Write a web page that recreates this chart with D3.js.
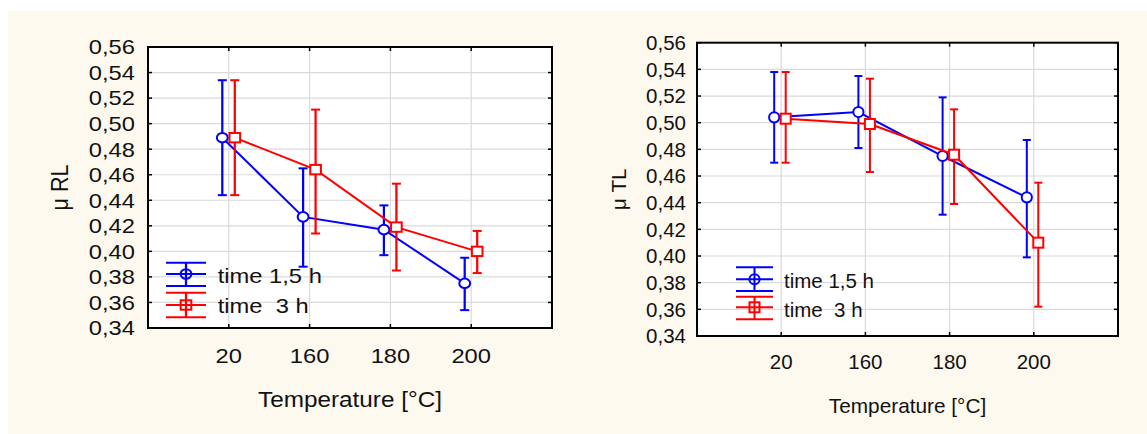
<!DOCTYPE html>
<html><head><meta charset="utf-8">
<script src="https://cdn.jsdelivr.net/npm/d3@7"></script>
<style>
body{margin:0;background:#fff}
text{font-family:"Liberation Sans",Arial,Helvetica,sans-serif;fill:#111;white-space:pre}
</style>
</head><body>
<svg id="c" width="1147" height="434"></svg>
<script>
// ---------- data ----------
const categories = ["20", "160", "180", "200"];
const seriesNames = ["time 1,5 h", "time  3 h"];
const seriesColors = ["#0000ff", "#ff0000"];
const seriesMarkers = ["circle", "square"];
const yTicks = [0.34, 0.36, 0.38, 0.40, 0.42, 0.44, 0.46, 0.48, 0.50, 0.52, 0.54, 0.56];
const xTitle = "Temperature [°C]";

// μ RL
const rl15Mean = [0.489, 0.427, 0.417, 0.375];
const rl15Lo   = [0.444, 0.388, 0.397, 0.354];
const rl15Hi   = [0.534, 0.465, 0.436, 0.395];
const rl3Mean  = [0.489, 0.464, 0.419, 0.400];
const rl3Lo    = [0.444, 0.414, 0.385, 0.383];
const rl3Hi    = [0.534, 0.511, 0.453, 0.416];

// μ TL
const tl15Mean = [0.504, 0.508, 0.475, 0.444];
const tl15Lo   = [0.470, 0.481, 0.431, 0.399];
const tl15Hi   = [0.538, 0.535, 0.519, 0.487];
const tl3Mean  = [0.503, 0.499, 0.476, 0.410];
const tl3Lo    = [0.470, 0.463, 0.439, 0.362];
const tl3Hi    = [0.538, 0.533, 0.510, 0.455];

// ---------- layout ----------
const charts = [
  {
    yTitle: "μ RL",
    series: [{mean: rl15Mean, lo: rl15Lo, hi: rl15Hi}, {mean: rl3Mean, lo: rl3Lo, hi: rl3Hi}],
    box: {x0: 148, x1: 552, y0: 47, y1: 328},
    sx: 1.13, font: 21, titleFont: 21.5,
    offs: [-6.5, 6],
    yLabelX: 135, xLabelDy: 35, xTitleY: 407, yTitleX: 68,
    r: 4.8, sq: 9.4,
    legend: {x0: 166, x1: 206, rows: [[262.7, 274, 286], [292.7, 305, 317.3]], tx: 217.7, ty: [283.3, 313.3]}
  },
  {
    yTitle: "μ TL",
    series: [{mean: tl15Mean, lo: tl15Lo, hi: tl15Hi}, {mean: tl3Mean, lo: tl3Lo, hi: tl3Hi}],
    box: {x0: 697, x1: 1118, y0: 42.7, y1: 336},
    sx: 1.0, font: 20.5, titleFont: 20.8,
    offs: [-7, 4.5],
    yLabelX: 686, xLabelDy: 33, xTitleY: 413, yTitleX: 626,
    r: 5.1, sq: 10,
    legend: {x0: 736, x1: 773, rows: [[267.3, 279.3, 291], [296.7, 307.3, 319.3]], tx: 784, ty: [288.3, 317]}
  }
];

const svg = d3.select("#c");
svg.append("rect").attr("x", 8).attr("y", 11).attr("width", 1139).attr("height", 423).attr("fill", "#fdf9ef");

const fmt = v => d3.format(".2f")(v).replace(".", ",");

function T(g, x, y, s, size, anchor, sx, rot) {
  return g.append("text")
    .attr("transform", `translate(${x},${y}) scale(${sx},1)` + (rot ? ` rotate(${rot})` : ""))
    .attr("text-anchor", anchor)
    .style("font-size", size + "px")
    .text(s);
}

function marker(g, type, cx, cy, c, color, fill) {
  if (type === "circle") {
    g.append("ellipse").attr("cx", cx).attr("cy", cy).attr("rx", c.r * c.sx).attr("ry", c.r)
      .attr("fill", fill).attr("stroke", color).attr("stroke-width", 2);
  } else {
    g.append("rect").attr("x", cx - c.sq * c.sx / 2).attr("y", cy - c.sq / 2)
      .attr("width", c.sq * c.sx).attr("height", c.sq)
      .attr("fill", fill).attr("stroke", color).attr("stroke-width", 2);
  }
}

charts.forEach(c => {
  const g = svg.append("g");
  const b = c.box;
  const x = d3.scalePoint().domain(categories).range([b.x0, b.x1]).padding(1);
  const y = d3.scaleLinear().domain([0.34, 0.56]).range([b.y1, b.y0]);

  g.append("rect").attr("x", b.x0).attr("y", b.y0).attr("width", b.x1 - b.x0).attr("height", b.y1 - b.y0).attr("fill", "#fff");

  // grid
  yTicks.slice(1, -1).forEach(t => {
    g.append("line").attr("x1", b.x0).attr("x2", b.x1).attr("y1", y(t)).attr("y2", y(t))
      .attr("stroke", "#dadada").attr("stroke-width", 1.2);
  });
  categories.forEach(cat => {
    g.append("line").attr("x1", x(cat)).attr("x2", x(cat)).attr("y1", b.y0).attr("y2", b.y1)
      .attr("stroke", "#dadada").attr("stroke-width", 1.2);
  });

  // inward ticks
  yTicks.forEach(t => {
    g.append("line").attr("x1", b.x0).attr("x2", b.x0 + 4).attr("y1", y(t)).attr("y2", y(t)).attr("stroke", "#000").attr("stroke-width", 1.5);
    g.append("line").attr("x1", b.x1 - 4).attr("x2", b.x1).attr("y1", y(t)).attr("y2", y(t)).attr("stroke", "#000").attr("stroke-width", 1.5);
  });
  categories.forEach(cat => {
    g.append("line").attr("x1", x(cat)).attr("x2", x(cat)).attr("y1", b.y0).attr("y2", b.y0 + 4).attr("stroke", "#000").attr("stroke-width", 1.5);
    g.append("line").attr("x1", x(cat)).attr("x2", x(cat)).attr("y1", b.y1 - 4).attr("y2", b.y1).attr("stroke", "#000").attr("stroke-width", 1.5);
  });

  // series
  c.series.forEach((s, si) => {
    const col = seriesColors[si];
    const off = c.offs[si];
    const pts = categories.map((cat, i) => [x(cat) + off, y(s.mean[i])]);
    g.append("path").attr("d", d3.line()(pts)).attr("fill", "none").attr("stroke", col).attr("stroke-width", 2);
    categories.forEach((cat, i) => {
      const px = x(cat) + off;
      g.append("line").attr("x1", px).attr("x2", px).attr("y1", y(s.lo[i])).attr("y2", y(s.hi[i])).attr("stroke", col).attr("stroke-width", 2 * c.sx);
      [s.lo[i], s.hi[i]].forEach(v => {
        g.append("line").attr("x1", px - 4 * c.sx).attr("x2", px + 4 * c.sx).attr("y1", y(v)).attr("y2", y(v)).attr("stroke", col).attr("stroke-width", 2);
      });
      marker(g, seriesMarkers[si], px, y(s.mean[i]), c, col, "#fff");
    });
  });

  // frame
  g.append("rect").attr("x", b.x0).attr("y", b.y0).attr("width", b.x1 - b.x0).attr("height", b.y1 - b.y0)
    .attr("fill", "none").attr("stroke", "#000").attr("stroke-width", 2);

  // y labels
  yTicks.forEach(t => {
    T(g, c.yLabelX, y(t), fmt(t), c.font, "end", c.sx).attr("dy", "0.35em");
  });
  // x labels
  categories.forEach(cat => {
    T(g, x(cat), b.y1 + c.xLabelDy, cat, c.font, "middle", c.sx);
  });
  // titles
  T(g, (b.x0 + b.x1) / 2, c.xTitleY, xTitle, c.titleFont, "middle", c.sx);
  T(g, c.yTitleX, (b.y0 + b.y1) / 2, c.yTitle, c.titleFont, "middle", c.sx, -90);

  // legend
  const L = c.legend;
  const lc = (L.x0 + L.x1) / 2;
  seriesNames.forEach((name, si) => {
    const col = seriesColors[si];
    const [t, m, bt] = L.rows[si];
    [t, m, bt].forEach(yy => {
      g.append("line").attr("x1", L.x0).attr("x2", L.x1).attr("y1", yy).attr("y2", yy).attr("stroke", col).attr("stroke-width", 2);
    });
    g.append("line").attr("x1", lc).attr("x2", lc).attr("y1", t).attr("y2", bt).attr("stroke", col).attr("stroke-width", 2 * c.sx);
    marker(g, seriesMarkers[si], lc, m, c, col, "none");
    T(g, L.tx, L.ty[si], name, c.font, "start", c.sx);
  });
});
</script>
</body></html>
